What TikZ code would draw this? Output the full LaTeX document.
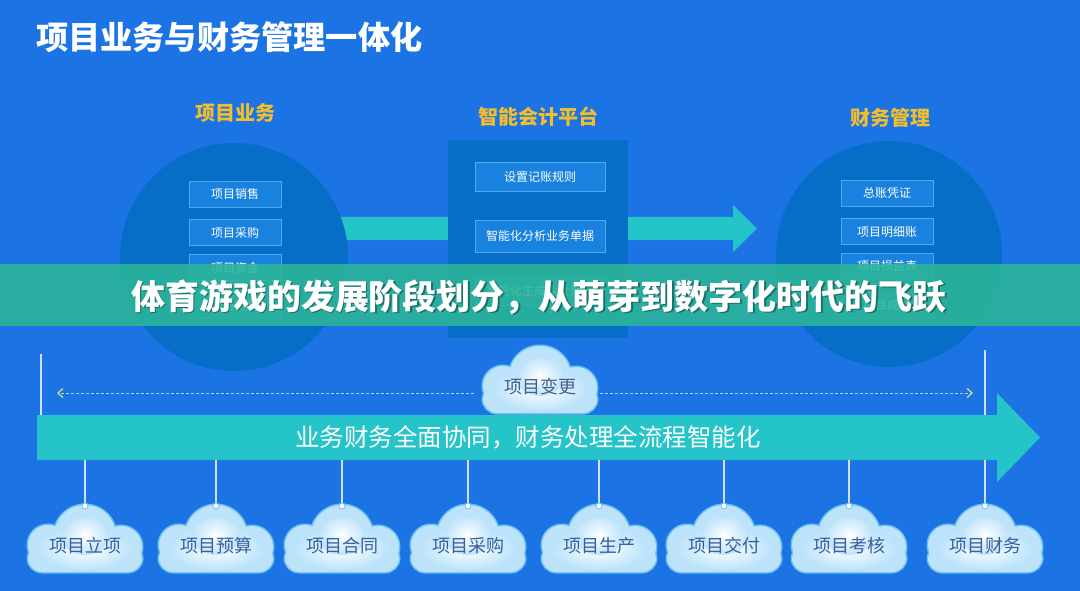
\documentclass[tikz,border=0pt]{standalone}
\usepackage{fontspec}
\newfontfamily\cjk{Noto Sans CJK SC}
\usetikzlibrary{arrows.meta}
\definecolor{bg}{RGB}{27,115,228}
\definecolor{circ}{RGB}{6,110,198}
\definecolor{ibox}{RGB}{24,130,222}
\definecolor{iboxedge}{RGB}{75,172,240}
\definecolor{tealc}{RGB}{36,196,200}
\definecolor{gold}{RGB}{242,190,48}
\definecolor{bannerc}{RGB}{44,182,152}
\definecolor{cloudedge}{RGB}{105,192,245}
\definecolor{cloudfill}{RGB}{188,227,250}
\definecolor{cloudtext}{RGB}{55,95,160}
\definecolor{chgtext}{RGB}{70,95,140}
\definecolor{vline}{RGB}{205,225,245}
\definecolor{dashc}{RGB}{175,210,235}
\definecolor{tipc}{RGB}{210,225,140}
\tikzset{
  innerbox/.style={draw=iboxedge, fill=ibox, line width=0.9pt, minimum width=92pt, minimum height=26pt,
    inner sep=0pt, text=white, font=\cjk\fontsize{12}{12}\selectfont},
  cbox/.style={innerbox, minimum width=130pt, minimum height=29pt},
  goldtitle/.style={text=gold, font=\cjk\bfseries\fontsize{20}{20}\selectfont},
  cloudlabel/.style={text=cloudtext, inner sep=0pt, font=\cjk\fontsize{18}{18}\selectfont},
  hangline/.style={draw=vline, line width=1.2pt},
  dashline/.style={draw=dashc, dashed, dash pattern=on 3pt off 2pt, line width=0.8pt,
    -{Straight Barb[length=5pt,width=9pt,line width=1.2pt,color=tipc]}},
}
% \cloudpic{cx}{top}
\newcommand{\cloudpic}[2]{%
  \begin{scope}[shift={(#1,#2)}]
    \draw[cloudedge, line width=3pt] (0,31) circle (31);
    \draw[cloudedge, line width=3pt] (-37,40) circle (20);
    \draw[cloudedge, line width=3pt] (36,42) circle (21);
    \draw[cloudedge, line width=3pt, rounded corners=14pt] (-57,40) rectangle (57,67);
    \fill[cloudfill] (0,31) circle (31);
    \fill[cloudfill] (-37,40) circle (20);
    \fill[cloudfill] (36,42) circle (21);
    \fill[cloudfill, rounded corners=14pt] (-57,40) rectangle (57,67);
    \shade[inner color=white, outer color=cloudfill] (0,44) ellipse (48 and 21);
    \shade[inner color=white, outer color=cloudfill] (0,30) ellipse (24 and 20);
  \end{scope}}
\begin{document}
\begin{tikzpicture}[x=1pt, y=-1pt]
\useasboundingbox (0,0) rectangle (1080,591);
\fill[bg] (0,0) rectangle (1080,591);

% title
\node[anchor=west, text=white, inner sep=0pt, font=\cjk\bfseries\fontsize{32.2}{32}\selectfont] (title) at (36,37) {项目业务与财务管理一体化};

% top teal arrow
\fill[tealc] (300,217) -- (733,217) -- (733,205) -- (757,228.5) -- (733,252) -- (733,240) -- (300,240) -- cycle;

% left circle
\fill[circ] (234,257) circle (114);
\node[goldtitle] (t1) at (235,113) {项目业务};
\node[innerbox] (l1) at (235,194) {项目销售};
\node[innerbox] (l2) at (235,232.5) {项目采购};
\node[innerbox] (l3) at (235,267.5) {项目资金};
\node[innerbox] (l4) at (235,305.5) {项目结算};

% center platform
\fill[circ] (448,140) rectangle (628,338);
\node[goldtitle] (t2) at (538,117) {智能会计平台};
\node[cbox] (c1) at (540,177) {设置记账规则};
\node[cbox, minimum height=32pt] (c2) at (540,236) {智能化分析业务单据};
\node[cbox] (c3) at (540,290.5) {智能化生成会计凭证};

% right circle
\fill[circ] (889,254) circle (113);
\node[goldtitle] (t3) at (890,118) {财务管理};
\node[innerbox] (r1) at (887,193) {总账凭证};
\node[innerbox] (r2) at (887,231.5) {项目明细账};
\node[innerbox] (r3) at (887,266) {项目损益表};
\node[innerbox] (r4) at (887,305) {项目成本};

% banner
\fill[bannerc, opacity=0.88] (0,264) rectangle (1080,326);
\node[text=black, opacity=0.35, font=\cjk\bfseries\fontsize{34}{34}\selectfont] at (540.2,298.5) {体育游戏的发展阶段划分，从萌芽到数字化时代的飞跃};
\node[text=white, font=\cjk\bfseries\fontsize{34}{34}\selectfont] (banner) at (539,297) {体育游戏的发展阶段划分，从萌芽到数字化时代的飞跃};

% vertical side lines
\coordinate (v1a) at (41,354); \coordinate (v1b) at (41,415);
\coordinate (v2a) at (985,350); \coordinate (v2b) at (985,415);
\draw[hangline] (v1a) -- (v1b);
\draw[hangline] (v2a) -- (v2b);

% change cloud and dashed arrows
\cloudpic{540}{346}
\node[cloudlabel, text=chgtext] (chg) at (540,387) {项目变更};
\coordinate (cl) at (474,393); \coordinate (dl) at (57,393);
\coordinate (cr) at (600,393); \coordinate (dr) at (973,393);
\draw[dashline] (cl) -- (dl);
\draw[dashline] (cr) -- (dr);

% big bottom arrow
\fill[tealc] (37,415) -- (997,415) -- (997,393) -- (1040,437.5) -- (997,482) -- (997,460) -- (37,460) -- cycle;
\coordinate (barbottom) at (540,460);
\node[text=white, inner sep=0pt, font=\cjk\fontsize{24.5}{24.5}\selectfont] (bartext) at (528,437.5) {业务财务全面协同，财务处理全流程智能化};

% hanging clouds
\foreach \cx/\lab/\nm in {85/项目立项/k1, 216/项目预算/k2, 342/项目合同/k3, 468/项目采购/k4, 599/项目生产/k5, 724/项目交付/k6, 849/项目考核/k7, 985/项目财务/k8}{
  \cloudpic{\cx}{505}
  \coordinate (\nm top) at (\cx,506);
  \draw[hangline] (barbottom -| \nm top) -- (\nm top);
  \filldraw[fill=white, draw=cloudedge, line width=0.8pt] (\nm top) circle (3);
  \node[cloudlabel] (\nm) at (\cx,546) {\lab};
}
\end{tikzpicture}
\end{document}
